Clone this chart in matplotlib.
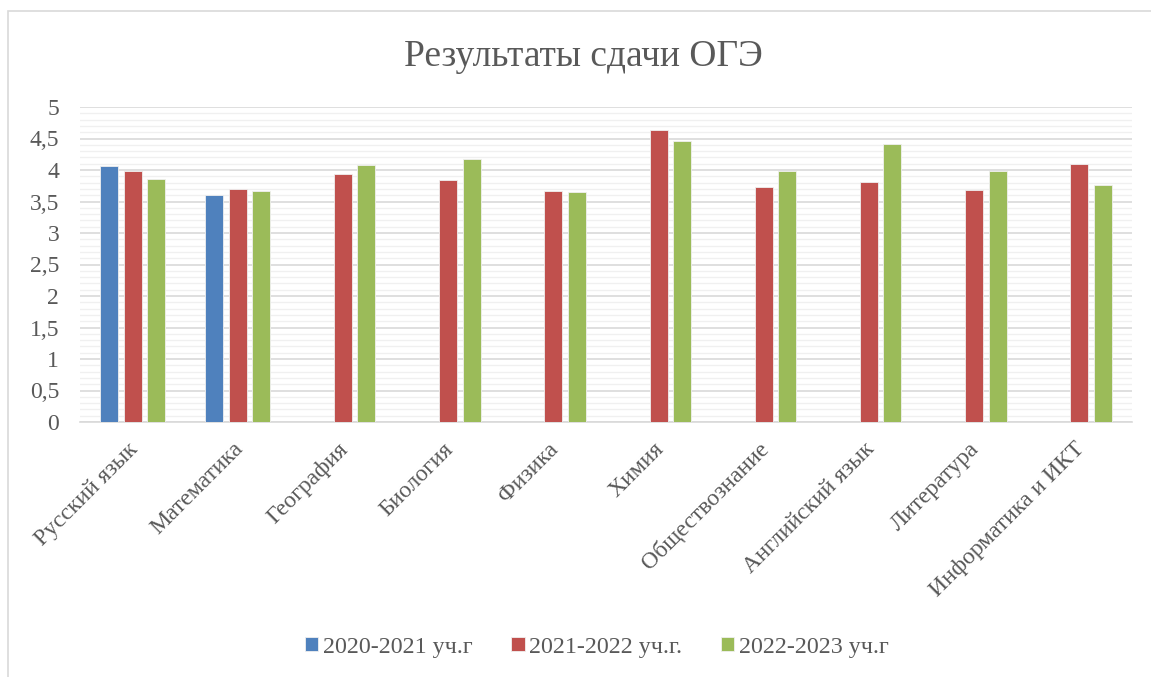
import numpy as np
import matplotlib
matplotlib.use("Agg")
import matplotlib.pyplot as plt
from matplotlib.patches import Rectangle
from matplotlib.ticker import MultipleLocator

categories = ["Русский язык", "Математика", "География", "Биология", "Физика",
              "Химия", "Обществознание", "Английский язык", "Литература",
              "Информатика и ИКТ"]
series_names = ["2020-2021 уч.г", "2021-2022 уч.г.", "2022-2023 уч.г"]
s2021 = [4.06, 3.61, np.nan, np.nan, np.nan, np.nan, np.nan, np.nan, np.nan, np.nan]
s2022 = [3.98, 3.70, 3.93, 3.84, 3.66, 4.63, 3.73, 3.81, 3.69, 4.09]
s2023 = [3.86, 3.66, 4.08, 4.17, 3.65, 4.46, 3.99, 4.42, 3.99, 3.76]
colors = ["#4F81BD", "#C0504D", "#9BBB59"]
yticks = [0, 0.5, 1, 1.5, 2, 2.5, 3, 3.5, 4, 4.5, 5]
ytick_labels = ["0", "0,5", "1", "1,5", "2", "2,5", "3", "3,5", "4", "4,5", "5"]

plt.rcParams['font.family'] = ['Liberation Serif', 'DejaVu Serif']
W, H = 1151, 677
fig = plt.figure(figsize=(W / 100, H / 100), dpi=100)
fig.patches.append(Rectangle((8 / W, 0 - 0.01), 1.1, (H - 11) / H + 0.01,
                             transform=fig.transFigure, fill=False,
                             edgecolor="#d9d9d9", linewidth=1.2))

ax = fig.add_axes([80 / W, 1 - 422 / H, (1132 - 80) / W, (422 - 107) / H])
x = np.arange(len(categories))
bw = 0.171
pitch = 0.222
for i, (vals, c, name) in enumerate(zip([s2021, s2022, s2023], colors, series_names)):
    ax.bar(x + (i - 1) * pitch, vals, width=bw, color=c, label=name,
           edgecolor="#f0f0f0", linewidth=0.6, zorder=3)

ax.set_xlim(-0.5, len(categories) - 0.5)
ax.set_ylim(0, 5)
ax.yaxis.set_minor_locator(MultipleLocator(0.1))
ax.set_yticks(yticks)
ax.set_yticklabels(ytick_labels)
ax.grid(which="major", axis="y", color="#d9d9d9", linewidth=1.2, zorder=0)
ax.grid(which="minor", axis="y", color="#f0f0f0", linewidth=1.0, zorder=0)
for sp in ["top", "right", "left"]:
    ax.spines[sp].set_visible(False)
ax.spines["bottom"].set_color("#d9d9d9")
ax.spines["bottom"].set_linewidth(1.2)
ax.tick_params(axis="y", which="both", length=0, pad=15, labelsize=17, labelcolor="#595959")
ax.tick_params(axis="x", length=0)
ax.set_xticks(x)
ax.set_xticklabels([])
for xi, lab in zip(x, categories):
    ax.annotate(lab, xy=(xi, 0), xycoords=("data", "axes fraction"),
                xytext=(2, -24), textcoords="offset pixels",
                rotation=45, rotation_mode="anchor", ha="right", va="center",
                fontsize=17, color="#595959")

fig.text(583 / W, 1 - 57 / H, "Результаты сдачи ОГЭ", ha="center", va="center",
         fontsize=27, color="#595959")

leg = fig.legend(loc="center", bbox_to_anchor=(597 / W, 1 - 647 / H), ncol=3,
                 frameon=False, fontsize=17.3, handlelength=0.55, handleheight=0.55,
                 handletextpad=0.2, columnspacing=1.6)
for t in leg.get_texts():
    t.set_color("#595959")

fig.savefig("out.png", dpi=100, facecolor="white")
